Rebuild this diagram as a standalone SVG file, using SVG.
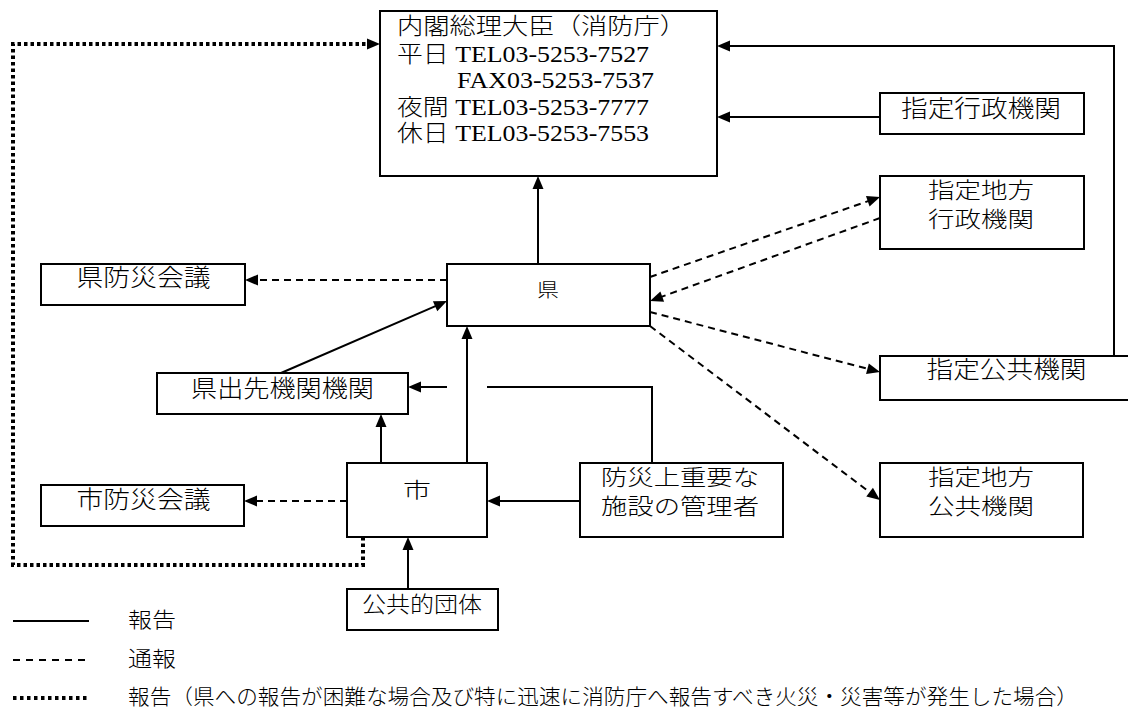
<svg xmlns="http://www.w3.org/2000/svg" width="1128" height="711" viewBox="0 0 1128 711">
<defs>
<marker id="ah" markerUnits="userSpaceOnUse" markerWidth="14" markerHeight="12" refX="1" refY="5.5" orient="auto" overflow="visible">
<path d="M0,0 L13,5.5 L0,11 z" fill="#000"/>
</marker>
<style>
.box{fill:#fff;stroke:#000;stroke-width:2}
.t{font-family:"Noto Sans CJK JP","Noto Sans",sans-serif;font-weight:300;font-size:24px;fill:#000;text-anchor:middle}
.t2{font-size:22px}
.m{font-family:"Liberation Serif","Noto Sans CJK JP",serif;font-weight:300;font-size:23px;fill:#000}
.lg{font-family:"Noto Sans CJK JP","Noto Sans",sans-serif;font-weight:300;font-size:21px;fill:#000}
.s{fill:none;stroke:#000;stroke-width:2}
.d{fill:none;stroke:#000;stroke-width:2;stroke-dasharray:7 5}
.o{fill:none;stroke:#000;stroke-width:4;stroke-dasharray:3.5 3}
.a{marker-end:url(#ah)}
</style>
</defs>
<rect width="1128" height="711" fill="#fff"/>

<g id="connectors">
<path class="s a" d="M1114,356 V46 H729"/>
<path class="s a" d="M880,117 H729"/>
<path class="s a" d="M538,264 V188"/>
<path class="d a" d="M447,280 H257"/>
<path class="s a" d="M281,373 L436,305.8"/>
<path class="s a" d="M467,463 V338"/>
<path class="s a" d="M381,463 V426"/>
<path class="s" d="M652,463 V387 H487"/>
<path class="s a" d="M447,387 H420"/>
<path class="s a" d="M580,501 H499"/>
<path class="d a" d="M347,501 H256"/>
<path class="s a" d="M408,589 V549"/>
<path class="o a" d="M363,537 V565 H13 V44 H368"/>
<path class="d a" d="M650,277 L868.7,200.9"/>
<path class="d a" d="M880,218 L661.3,296.9"/>
<path class="d a" d="M650,312 L868.4,369"/>
<path class="d a" d="M650,326 L870.4,492.8"/>
</g>

<g id="n-cabinet">
<rect class="box" x="380" y="11" width="337" height="165"/>
<text class="m" x="397" y="34" textLength="289" lengthAdjust="spacingAndGlyphs">内閣総理大臣（消防庁）</text>
<text class="m" x="397" y="62" textLength="252" lengthAdjust="spacingAndGlyphs">平日 TEL03-5253-7527</text>
<text class="m" x="457" y="88" textLength="197" lengthAdjust="spacingAndGlyphs">FAX03-5253-7537</text>
<text class="m" x="397" y="115" textLength="252" lengthAdjust="spacingAndGlyphs">夜間 TEL03-5253-7777</text>
<text class="m" x="397" y="141" textLength="252" lengthAdjust="spacingAndGlyphs">休日 TEL03-5253-7553</text>
</g>

<g id="n-shitei-gyosei">
<rect class="box" x="880" y="93" width="204" height="41"/>
<text class="t" x="981" y="117" textLength="160" lengthAdjust="spacingAndGlyphs">指定行政機関</text>
</g>

<g id="n-shitei-chiho-gyosei">
<rect class="box" x="880" y="176" width="204" height="73"/>
<text class="t t2" x="981" y="198" textLength="106" lengthAdjust="spacingAndGlyphs">指定地方</text>
<text class="t t2" x="981" y="227" textLength="106" lengthAdjust="spacingAndGlyphs">行政機関</text>
</g>

<g id="n-ken">
<rect class="box" x="447" y="264" width="203" height="62"/>
<text class="t" x="548" y="297" style="font-size:19px" textLength="22" lengthAdjust="spacingAndGlyphs">県</text>
</g>

<g id="n-ken-bosai">
<rect class="box" x="41" y="264" width="204" height="41"/>
<text class="t" x="143.5" y="286" textLength="134" lengthAdjust="spacingAndGlyphs">県防災会議</text>
</g>

<g id="n-ken-desaki">
<rect class="box" x="157" y="373" width="251" height="41"/>
<text class="t" x="282.5" y="396.5" textLength="183" lengthAdjust="spacingAndGlyphs">県出先機関機関</text>
</g>

<g id="n-shitei-kokyo">
<rect class="box" x="880" y="356" width="260" height="44"/>
<text class="t" x="1006.5" y="377.5" textLength="160" lengthAdjust="spacingAndGlyphs">指定公共機関</text>
</g>

<g id="n-shi">
<rect class="box" x="347" y="463" width="140" height="74"/>
<text class="t" x="417" y="496.5" style="font-size:21px" textLength="28" lengthAdjust="spacingAndGlyphs">市</text>
</g>

<g id="n-bosai-shisetsu">
<rect class="box" x="580" y="463" width="203" height="74"/>
<text class="t t2" x="680" y="484.5" textLength="158" lengthAdjust="spacingAndGlyphs">防災上重要な</text>
<text class="t t2" x="680" y="513.5" textLength="158" lengthAdjust="spacingAndGlyphs">施設の管理者</text>
</g>

<g id="n-shitei-chiho-kokyo">
<rect class="box" x="880" y="463" width="203" height="74"/>
<text class="t t2" x="981" y="484.5" textLength="106" lengthAdjust="spacingAndGlyphs">指定地方</text>
<text class="t t2" x="981" y="513.5" textLength="106" lengthAdjust="spacingAndGlyphs">公共機関</text>
</g>

<g id="n-shi-bosai">
<rect class="box" x="41" y="485" width="203" height="41"/>
<text class="t" x="143.5" y="507.5" textLength="134" lengthAdjust="spacingAndGlyphs">市防災会議</text>
</g>

<g id="n-kokyoteki">
<rect class="box" x="347" y="589" width="151" height="41"/>
<text class="t" x="422" y="612" style="font-size:22px" textLength="120" lengthAdjust="spacingAndGlyphs">公共的団体</text>
</g>

<g id="legend">
<path class="s" d="M13,621 H89"/>
<text class="lg" x="128" y="626.5" textLength="48" lengthAdjust="spacingAndGlyphs">報告</text>
<path class="d" d="M13,660 H89" style="stroke-dasharray:7 6"/>
<text class="lg" x="128" y="665.5" textLength="48" lengthAdjust="spacingAndGlyphs">通報</text>
<path class="o" d="M13,698 H89" style="stroke-dasharray:3.5 3.5"/>
<text class="lg" x="128" y="704" textLength="950" lengthAdjust="spacingAndGlyphs">報告（県への報告が困難な場合及び特に迅速に消防庁へ報告すべき火災・災害等が発生した場合）</text>
</g>
</svg>
